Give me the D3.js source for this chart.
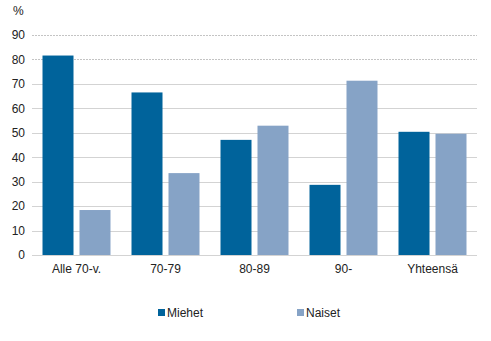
<!DOCTYPE html>
<html>
<head>
<meta charset="utf-8">
<script src="https://cdn.jsdelivr.net/npm/d3@7/dist/d3.min.js"></script>
<style>
  html, body { margin: 0; padding: 0; background: #fff; }
  svg { display: block; font-family: "Liberation Sans", Arial, sans-serif; }
</style>
</head>
<body>
<svg id="chart" width="491" height="341"></svg>
<script>
// Age groups and shares by sex (%)
const categories = ["Alle 70-v.", "70-79", "80-89", "90-", "Yhteensä"];
const seriesNames = ["Miehet", "Naiset"];
const miehet = [81.6, 66.5, 47.1, 28.7, 50.4];
const naiset = [18.4, 33.5, 52.9, 71.3, 49.6];
const yTicks = [0, 10, 20, 30, 40, 50, 60, 70, 80, 90];
const colors = ["#00639b", "#86a3c6"];

const series = [miehet, naiset];
const svg = d3.select("#chart");
const margin = { left: 32, right: 14, top: 35, bottom: 86 };
const W = 491, H = 341;

const x = d3.scaleBand().domain(categories).range([margin.left, W - margin.right]).paddingInner(0).paddingOuter(0);
const x1 = d3.scaleBand().domain(seriesNames).range([0, x.bandwidth()]).paddingInner(0.162).paddingOuter(0.284);
const y = d3.scaleLinear().domain([0, 90]).range([H - margin.bottom, margin.top]);

// Gridlines
svg.append("g").selectAll("line").data(yTicks).join("line")
  .attr("x1", margin.left).attr("x2", W - margin.right)
  .attr("y1", d => Math.round(y(d)) + 0.5).attr("y2", d => Math.round(y(d)) + 0.5)
  .attr("stroke", d => d >= 80 ? "#c4c4c4" : "#d3d3d3")
  .attr("stroke-dasharray", d => d >= 80 ? "2,1" : null)
  .attr("stroke-width", 1);

// Y axis labels
const yAxis = d3.axisLeft(y).tickValues(yTicks).tickSize(0).tickPadding(7);
const gy = svg.append("g").attr("transform", `translate(${margin.left},0)`).call(yAxis);
gy.select(".domain").remove();
gy.selectAll("text").attr("font-size", 12).attr("fill", "#222").attr("font-family", "Liberation Sans, Arial, sans-serif");

svg.append("text").attr("x", 13).attr("y", 15).attr("font-size", 12).attr("fill", "#222").text("%");

// Bars
const groups = svg.append("g").selectAll("g").data(categories).join("g")
  .attr("transform", d => `translate(${x(d)},0)`);
groups.selectAll("rect")
  .data((c, i) => seriesNames.map((s, j) => ({ s, v: series[j][i], j })))
  .join("rect")
  .attr("x", d => x1(d.s))
  .attr("width", x1.bandwidth())
  .attr("y", d => y(d.v))
  .attr("height", d => y(0) - y(d.v))
  .attr("fill", d => colors[d.j]);

// X axis labels
const xAxis = d3.axisBottom(x).tickSize(0).tickPadding(9);
const gx = svg.append("g").attr("transform", `translate(0,${y(0)})`).call(xAxis);
gx.select(".domain").remove();
gx.selectAll("text").attr("font-size", 12).attr("fill", "#222").attr("font-family", "Liberation Sans, Arial, sans-serif");

// Legend
const legendX = [158, 297];
const lg = svg.append("g").selectAll("g").data(seriesNames).join("g")
  .attr("transform", (d, i) => `translate(${legendX[i]},312)`);
lg.append("rect").attr("x", 0).attr("y", -3).attr("width", 7).attr("height", 7).attr("fill", (d, i) => colors[i]);
lg.append("text").attr("x", 9).attr("y", 4.5).attr("font-size", 12).attr("fill", "#222").text(d => d);
</script>
</body>
</html>
